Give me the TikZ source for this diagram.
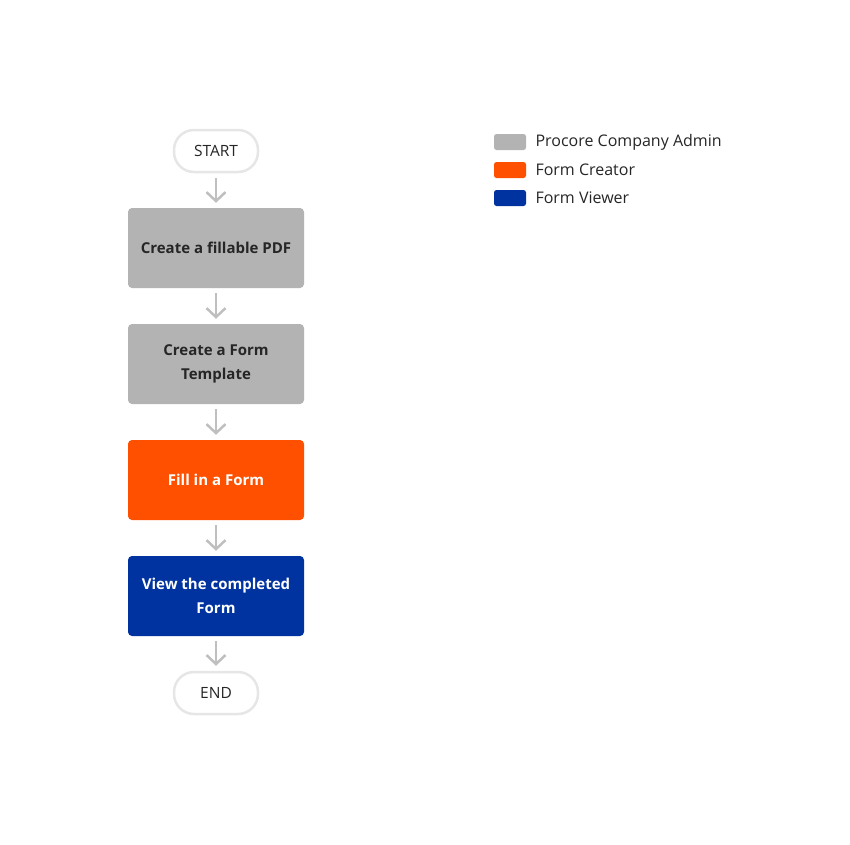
\documentclass[tikz,border=0pt]{standalone}
\usepackage{fontspec}
\setmainfont{Open Sans}
\usetikzlibrary{arrows.meta}

\definecolor{admingray}{HTML}{B3B3B3}
\definecolor{creatororange}{HTML}{FF5000}
\definecolor{viewerblue}{HTML}{0033A0}
\definecolor{pillline}{HTML}{E6E6E6}
\definecolor{arrowgray}{HTML}{BFBFBF}
\definecolor{textdark}{HTML}{262626}

\tikzset{
  pill/.style={draw=pillline, line width=2.5pt, fill=white, rounded corners=20pt,
    minimum width=84pt, minimum height=42pt, font=\fontsize{15.5}{18}\selectfont, text=textdark},
  stepbox/.style={rounded corners=4pt, minimum width=176pt, minimum height=80pt,
    align=center, font=\bfseries\fontsize{15}{24}\selectfont},
  swatch/.style={rounded corners=2.5pt, minimum width=32pt, minimum height=16pt},
  legendtext/.style={anchor=west, text=textdark, font=\fontsize{16}{18}\selectfont},
  flow/.style={draw=arrowgray, line width=2.5pt, -{Straight Barb[length=9pt,width=19pt,line width=2.5pt]},
    shorten <=5pt, shorten >=5pt}
}

\begin{document}
\begin{tikzpicture}[x=1pt, y=-1pt]
  \useasboundingbox (0,0) rectangle (850,844);

  \node[pill] (start) at (216, 151) {START};
  \node[stepbox, fill=admingray, text=textdark] (pdf) at (216, 248) {Create a fillable PDF};
  \node[stepbox, fill=admingray, text=textdark] (template) at (216, 364) {Create a Form\\Template};
  \node[stepbox, fill=creatororange, text=white] (fill) at (216, 480) {Fill in a Form};
  \node[stepbox, fill=viewerblue, text=white] (view) at (216, 596) {View the completed\\Form};
  \node[pill] (end) at (216, 693) {END};

  \draw[flow] (start) -- (pdf);
  \draw[flow] (pdf) -- (template);
  \draw[flow] (template) -- (fill);
  \draw[flow] (fill) -- (view);
  \draw[flow] (view) -- (end);

  % legend
  \node[swatch, fill=admingray] (keyadmin) at (510, 142) {};
  \node[swatch, fill=creatororange] (keycreator) at (510, 170) {};
  \node[swatch, fill=viewerblue] (keyviewer) at (510, 198) {};
  \node[legendtext] at (532, 142) {Procore Company Admin};
  \node[legendtext] at (532, 170) {Form Creator};
  \node[legendtext] at (532, 198) {Form Viewer};
\end{tikzpicture}
\end{document}
